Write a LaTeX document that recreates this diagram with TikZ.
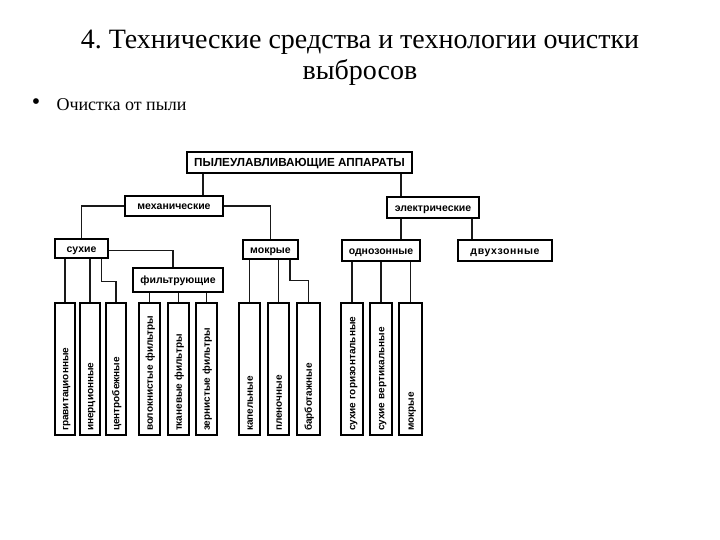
\documentclass[tikz,border=0pt]{standalone}
\usepackage{fontspec}
\setmainfont{Liberation Serif}
\setsansfont{Liberation Sans}
\usetikzlibrary{calc}
\tikzset{
  link line/.style={draw=black!90,line width=1.1pt},
  upper node/.style={draw=black,line width=1.8pt,inner sep=2pt,
    text height=8pt,text depth=0pt,
    font=\sffamily\bfseries\fontsize{10.5}{12}\selectfont},
  leaf node/.style={draw=black,line width=1.8pt,rotate=90,
    minimum width=132pt,minimum height=21pt,inner xsep=4pt,inner ysep=1pt,
    text height=6.6pt,text depth=0pt,
    text width=124pt,align=left,font=\sffamily\bfseries\fontsize{10}{12}\selectfont}
}

\begin{document}
\begin{tikzpicture}[x=1pt,y=1pt]
  \useasboundingbox[fill=white] (0,0) rectangle (720,540);
  % heading of the slide
  \node[font=\fontsize{28}{31}\selectfont,align=center] (title) at (360,482)
    {4.\ Технические средства и технологии очистки\\выбросов};
  \node[font=\fontsize{24}{24}\selectfont] (dot) at (36,436) {•};
  \node[font=\fontsize{18}{20}\selectfont,anchor=west] (item) at (53,435)
    {Очистка от пыли};

  % upper levels
  \node[upper node,minimum width=225pt,minimum height=21pt,text height=9pt,
    font=\sffamily\bfseries\fontsize{11.7}{13}\selectfont]
    (root) at (299.5,377.5) {ПЫЛЕУЛАВЛИВАЮЩИЕ АППАРАТЫ};
  \node[upper node,minimum width=98pt,minimum height=20pt]
    (mech) at (174,334) {механические};
  \node[upper node,minimum width=92pt,minimum height=21pt]
    (elec) at (433,332.5) {электрические};
  \node[upper node,minimum width=53pt,minimum height=19pt]
    (dry) at (81.5,291.5) {сухие};
  \node[upper node,minimum width=55pt,minimum height=19pt]
    (wet) at (270.5,290.5) {мокрые};
  \node[upper node,minimum width=78pt,minimum height=21pt]
    (one) at (381,289.5) {однозонные};
  \node[upper node,minimum width=94pt,minimum height=21pt,
    font=\sffamily\bfseries\fontsize{10.5}{12}\selectfont\addfontfeature{LetterSpace=6}]
    (two) at (505,289.5) {двухзонные};
  \node[upper node,minimum width=90pt,minimum height=24pt]
    (filt) at (178,260) {фильтрующие};

  % leaves
  \node[leaf node,minimum height=20pt] (grav) at (65,171) {гравитационные};
  \node[leaf node,minimum height=20pt] (iner) at (90,171) {инерционные};
  \node[leaf node,minimum height=20pt] (cent) at (116,171) {центробежные};
  \node[leaf node] (volok) at (149.5,171) {волокнистые фильтры};
  \node[leaf node] (tkan) at (178.5,171) {тканевые фильтры};
  \node[leaf node] (zern) at (206.5,171) {зернистые фильтры};
  \node[leaf node] (kap) at (249.5,171) {капельные};
  \node[leaf node] (plen) at (278.5,171) {пленочные};
  \node[leaf node,minimum height=23pt] (barb) at (308.5,171) {барботажные};
  \node[leaf node,minimum height=22pt] (gor) at (352,171) {сухие горизонтальные};
  \node[leaf node,minimum height=22pt] (vert) at (381,171) {сухие вертикальные};
  \node[leaf node,minimum height=23pt] (mokr) at (410.5,171) {мокрые};

  % connectors
  \draw[link line] ([xshift=29]mech.north) -- ([xshift=29]mech.north |- root.south);
  \draw[link line] ([xshift=-32]elec.north) -- ([xshift=-32]elec.north |- root.south);
  \draw[link line] (mech.west) -| (dry.north);
  \draw[link line] (mech.east) -| (wet.north);
  \draw[link line] ([yshift=-2]dry.east) -| ([xshift=-5]filt.north);
  \draw[link line] ([xshift=20]one.north) -- ([xshift=20]one.north |- elec.south);
  \draw[link line] ([xshift=-33]two.north) -- ([xshift=-33]two.north |- elec.south);

  \draw[link line] (dry.south -| grav.east) -- (grav.east);
  \draw[link line] (dry.south -| iner.east) -- (iner.east);
  \draw[link line] ([xshift=20]dry.south) |- ([yshift=21]cent.east) -- (cent.east);
  \draw[link line] (filt.south -| volok.east) -- (volok.east);
  \draw[link line] (filt.south -| tkan.east) -- (tkan.east);
  \draw[link line] (filt.south -| zern.east) -- (zern.east);
  \draw[link line] (wet.south -| kap.east) -- (kap.east);
  \draw[link line] (wet.south -| plen.east) -- (plen.east);
  \draw[link line] ([xshift=19.5]wet.south) |- ([yshift=22]barb.east) -- (barb.east);
  \draw[link line] (one.south -| gor.east) -- (gor.east);
  \draw[link line] (one.south -| vert.east) -- (vert.east);
  \draw[link line] (one.south -| mokr.east) -- (mokr.east);
\end{tikzpicture}
\end{document}
